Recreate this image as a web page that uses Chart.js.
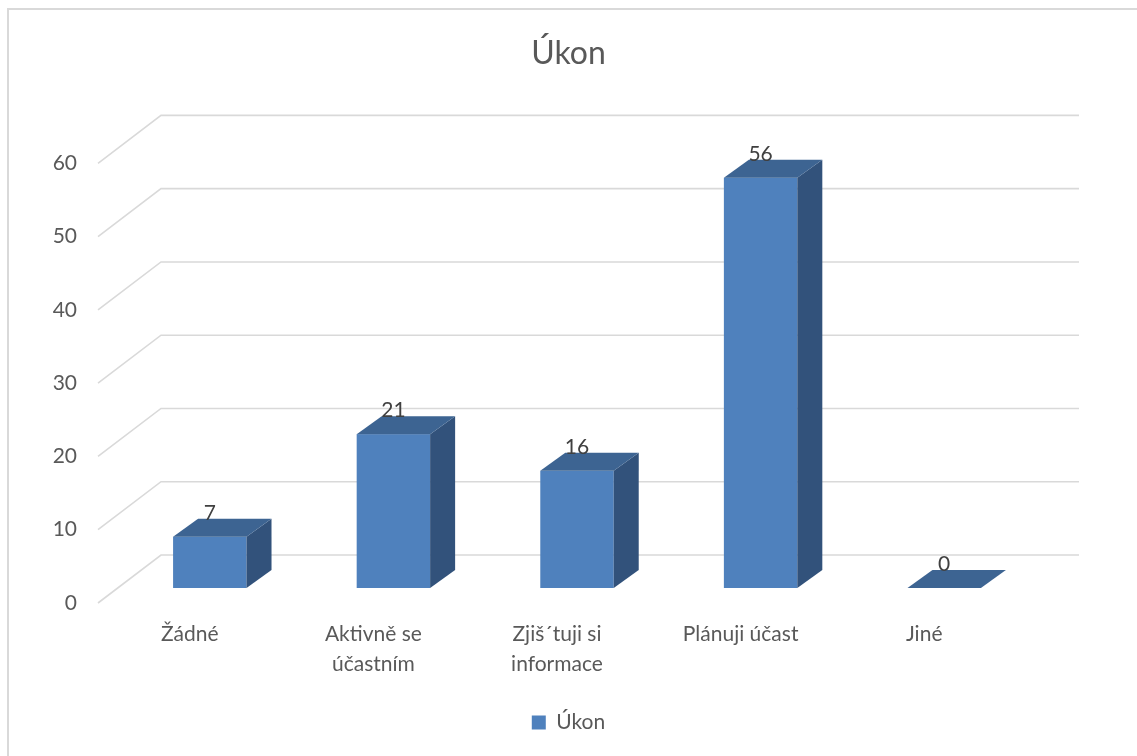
<!DOCTYPE html>
<html lang="cs">
<head>
<meta charset="utf-8">
<title>Úkon</title>
<script src="https://cdn.jsdelivr.net/npm/chart.js@4/dist/chart.umd.min.js"></script>
<style>
    html, body {
        margin: 0;
        padding: 0;
        background: #fff;
        overflow: hidden;
    }
    .frame {
        position: absolute;
        left: 7px;
        top: 8px;
        width: 1160px;
        height: 780px;
        border: 2px solid #d9d9d9;
        box-sizing: border-box;
    }
    .wrap {
        position: absolute;
        left: 0;
        top: 0;
        width: 1137px;
        height: 756px;
    }
</style>
</head>
<body>
<div class="frame"></div>
<div class="wrap"><canvas id="ukonChart" width="1137" height="756"></canvas></div>
<script>
// Data
const categories = ['Žádné', ['Aktivně se', 'účastním'], ['Zjiš´tuji si', 'informace'], 'Plánuji účast', 'Jiné'];
const ukonValues = [7, 21, 16, 56, 0];
const yTicks = [0, 10, 20, 30, 40, 50, 60];

const FONT = "Lato, 'Open Sans', sans-serif";
const TEXT_COLOR = '#595959';
const GRID_COLOR = '#d9d9d9';

// Depth of the floor/side wall and where the bars sit inside it
const WALL_DX = 63, WALL_DY = -48;
const BAR_DX = 20, BAR_DY = -15;
const BAR_DEPTH_DX = 25, BAR_DEPTH_DY = -18;

const FACE_FRONT = '#4f81bd';
const FACE_TOP = '#3d6492';
const FACE_SIDE = '#32527b';

/**
 * Draws the walls, the 3D columns and their value labels
 */
const depthPlugin = {
    id: 'depth3d',
    beforeDatasetsDraw(chart) {
        const { ctx, chartArea, scales: { y } } = chart;

        // Side wall diagonals + back wall gridlines
        ctx.save();
        ctx.strokeStyle = GRID_COLOR;
        ctx.lineWidth = 1.6;
        yTicks.forEach(v => {
            const py = y.getPixelForValue(v);
            ctx.beginPath();
            ctx.moveTo(chartArea.left, py);
            ctx.lineTo(chartArea.left + WALL_DX, py + WALL_DY);
            ctx.lineTo(chartArea.right + WALL_DX, py + WALL_DY);
            ctx.stroke();
        });
        ctx.restore();

        // Columns
        const meta = chart.getDatasetMeta(0);
        ctx.save();
        meta.data.forEach((bar, i) => {
            const x0 = bar.x - bar.width / 2 + BAR_DX;
            const x1 = bar.x + bar.width / 2 + BAR_DX;
            const top = bar.y + BAR_DY;
            const bottom = bar.base + BAR_DY;

            // front
            ctx.fillStyle = FACE_FRONT;
            ctx.fillRect(x0, top, x1 - x0, bottom - top);

            // side
            ctx.fillStyle = FACE_SIDE;
            ctx.beginPath();
            ctx.moveTo(x1, top);
            ctx.lineTo(x1 + BAR_DEPTH_DX, top + BAR_DEPTH_DY);
            ctx.lineTo(x1 + BAR_DEPTH_DX, bottom + BAR_DEPTH_DY);
            ctx.lineTo(x1, bottom);
            ctx.closePath();
            ctx.fill();

            // top
            ctx.fillStyle = FACE_TOP;
            ctx.beginPath();
            ctx.moveTo(x0, top);
            ctx.lineTo(x0 + BAR_DEPTH_DX, top + BAR_DEPTH_DY);
            ctx.lineTo(x1 + BAR_DEPTH_DX, top + BAR_DEPTH_DY);
            ctx.lineTo(x1, top);
            ctx.closePath();
            ctx.fill();

            // value label
            ctx.fillStyle = '#404040';
            ctx.font = '21px ' + FONT;
            ctx.textAlign = 'center';
            ctx.textBaseline = 'alphabetic';
            ctx.fillText(String(ukonValues[i]), (x0 + x1) / 2, top + BAR_DEPTH_DY + 1);
        });
        ctx.restore();

        return false;
    }
};

const chart = new Chart(document.getElementById('ukonChart'), {
    type: 'bar',
    data: {
        labels: categories,
        datasets: [{
            label: 'Úkon',
            data: ukonValues,
            backgroundColor: FACE_FRONT,
            barPercentage: 0.4,
            categoryPercentage: 1.0
        }]
    },
    options: {
        responsive: false,
        animation: false,
        layout: {
            padding: { left: 0, right: 0, top: 0, bottom: 13 }
        },
        plugins: {
            title: {
                display: true,
                text: 'Úkon',
                color: TEXT_COLOR,
                font: { family: FONT, size: 32, weight: 'normal' },
                padding: { top: 34, bottom: 91 }
            },
            legend: {
                position: 'bottom',
                labels: {
                    color: TEXT_COLOR,
                    font: { family: FONT, size: 21 },
                    boxWidth: 14,
                    boxHeight: 14
                }
            },
            tooltip: { enabled: false }
        },
        scales: {
            x: {
                grid: { display: false, drawTicks: false },
                border: { display: false },
                ticks: {
                    color: TEXT_COLOR,
                    font: { family: FONT, size: 21, lineHeight: 1.4 },
                    padding: 17,
                    maxRotation: 0,
                    autoSkip: false
                },
                afterFit(scale) {
                    scale.height = 99;
                }
            },
            y: {
                min: 0,
                max: 60,
                grid: { display: false, drawTicks: false },
                border: { display: false },
                ticks: {
                    stepSize: 10,
                    color: TEXT_COLOR,
                    font: { family: FONT, size: 21 },
                    padding: 21
                },
                afterFit(scale) {
                    scale.width = 98;
                }
            },
            // empty strip on the right, room for the back wall
            yRight: {
                position: 'right',
                grid: { display: false, drawTicks: false },
                border: { display: false },
                ticks: { display: false },
                afterFit(scale) {
                    scale.width = 121;
                }
            }
        }
    },
    plugins: [depthPlugin]
});
</script>
</body>
</html>
